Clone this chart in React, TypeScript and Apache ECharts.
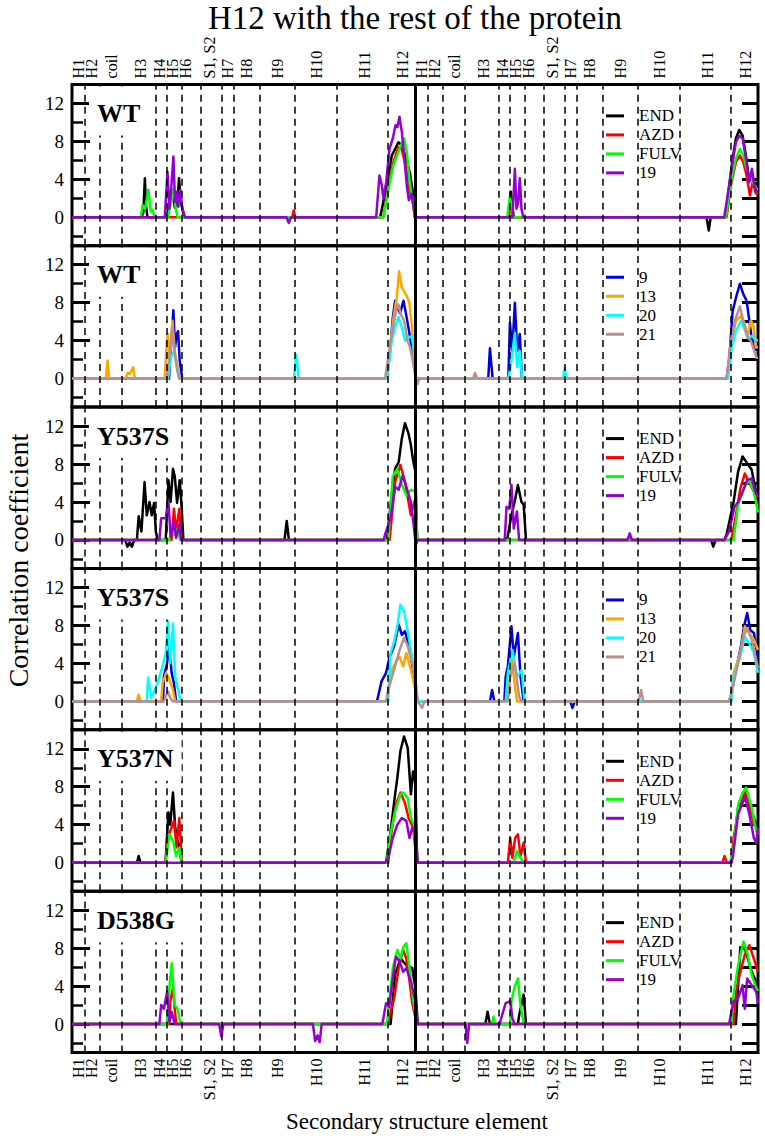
import React, { useEffect, useRef } from "react";
import * as echarts from "echarts";

const SERIF = "'Liberation Serif', 'DejaVu Serif', serif";
const TITLE = "H12 with the rest of the protein";
const Y_NAME = "Correlation coefficient";
const X_NAME = "Secondary structure element";

const PANEL_LABELS = ["WT", "WT", "Y537S", "Y537S", "Y537N", "D538G"];
const GROUP_A = ["END", "AZD", "FULV", "19"];
const GROUP_B = ["9", "13", "20", "21"];
const PANEL_GROUPS = [GROUP_A, GROUP_B, GROUP_A, GROUP_B, GROUP_A, GROUP_A];
const SERIES_COLORS: Record<string, string> = {
  END: "#000000",
  AZD: "#ff0000",
  FULV: "#00ff00",
  "19": "#9400d3",
  "9": "#0000dd",
  "13": "#ffa500",
  "20": "#00ffff",
  "21": "#bc8f8f",
};

// residue index per chain; chain B follows chain A
const CHAIN_LENGTH = 250;
const X_MAX = 500;
const SSE_NAMES = ["H1", "H2", "coil", "H3", "H4", "H5", "H6", "S1, S2", "H7", "H8", "H9", "H10", "H11", "H12"];
const SSE_LABEL_POS = [5, 14, 29, 50, 64, 73, 83, 100, 113, 127, 150, 178, 213, 241];
const SSE_BOUNDARIES = [9, 20, 36, 61, 69, 80, 94, 109, 118, 137, 162, 193, 230];

const Y_MIN = -3;
const Y_MAX = 14;
const Y_MAJOR = [0, 4, 8, 12];
const Y_MINOR = [-2, 2, 6, 10];
const Y_RIGHT_TICKS = [-2, 0, 2, 4, 6, 8, 10, 12];

// ---- Panel 1: WT, END / AZD / FULV / 19
const wtEND = [
  [50.5, 0], [52, 0.5], [53.1, 4.1], [54, 1.2], [55, 0],
  [69, 0], [71, 1.5], [73, 2.8], [75, 1.0], [77, 2.0], [78, 4.1], [79.5, 1.5], [81, 0.5], [82, 0],
  [224.6, 0], [229.5, 3.4], [233.1, 6.5], [237.9, 7.9], [240.4, 7.6], [243.5, 6.2], [246.4, 4.6], [248.4, 2.7], [250, 0],
  [318, 0], [319.9, 2.7], [321.1, 0.9], [322.1, 0],
  [462.5, 0], [464.1, -1.4], [465.5, 0],
  [476.2, 0], [479.1, 3.4], [481.5, 6.2], [483.9, 8.3], [486.3, 9.2], [488.8, 8.6], [491.2, 6.5], [493.1, 4.4], [494.8, 4.1], [497.3, 3.7], [500, 3.4],
];
const wtAZD = [
  [160.5, 0], [161.6, 0.7], [162.7, 0],
  [227, 0], [230.7, 3.4], [234.3, 5.8], [237.9, 7.4], [240.4, 7.1], [242.8, 5.7], [245.9, 3.0], [248.4, 1.6], [250, 0],
  [318.2, 0], [319.6, 1.5], [321.1, 0],
  [477.1, 0], [480.3, 3.4], [483.9, 5.8], [486.8, 6.5], [489.3, 5.8], [491.7, 4.4], [494.1, 2.3], [496.1, 3.7], [498.5, 2.5], [500, 2.5],
];
const wtFULV = [
  [50.2, 0], [51.4, 1.3], [53.3, 0.9], [55.7, 2.9], [57.4, 0.6], [58.6, 0.8], [60.3, 0],
  [70, 0], [72, 1.5], [74, 3.0], [75.5, 1.0], [77, 0],
  [227, 0], [230.7, 3.0], [234.3, 5.5], [239.2, 7.4], [242.1, 8.3], [244, 6.9], [246.4, 3.4], [248.9, 1.3], [250.3, 0],
  [317.2, 0], [319.2, 2.2], [320.4, 1.1], [321.6, 0],
  [476.7, 0], [480.3, 3.7], [483.9, 6.2], [486.8, 7.2], [489.3, 6.5], [491.7, 5.1], [494.8, 4.1], [498.5, 3.0], [500, 3.0],
];
const wt19 = [
  [67.6, 0], [69.6, 4.8], [71, 0.9], [72.5, 3.4], [73.9, 6.4], [75.1, 1.6], [76.3, 2.7], [77.5, 1.1], [78.8, 2.9], [80.5, 0.9], [82.4, 0],
  [156.3, 0], [158, -0.6], [159.7, 0],
  [221.7, 0], [224.1, 4.4], [225.8, 3.4], [227, 2.0], [229, 3.7], [231.4, 7.2], [233.8, 8.3], [235.8, 9.7], [237.2, 9.5], [238.7, 10.6], [240.4, 9.0], [242.1, 6.5], [244, 3.4], [245.5, 1.8], [247.6, 2.5], [250, 0],
  [321.1, 0], [322.8, 5.1], [324, 0.9], [325.2, 1.6], [326.4, 4.1], [327.6, 0.9], [328.9, 0],
  [475.4, 0], [478.6, 3.0], [481.5, 5.8], [483.9, 7.9], [486.3, 8.6], [488.8, 8.3], [491.2, 6.2], [493.6, 3.7], [495.6, 5.1], [497.3, 3.4], [499, 2.7], [500, 2.7],
];

// ---- Panel 2: WT, 9 / 13 / 20 / 21
const wt9 = [
  [70.7, 0], [72.4, 4.0], [73.9, 7.2], [75.1, 3.3], [76.3, 4.7], [77.3, 5.0], [78.5, 1.9], [80.4, 0],
  [229.5, 0], [231.9, 2.9], [233.8, 6.4], [235.5, 8.2], [237.2, 7.5], [239.1, 6.9], [241.6, 8.2], [244, 6.4], [245.9, 4.8], [247.6, 3.3], [249.3, 2.4], [250.8, 0],
  [303.4, 0], [304.6, 3.2], [306.6, 0],
  [318, 0], [319.2, 5.9], [320.9, 2.9], [322.8, 8.0], [324.5, 2.9], [326.4, 4.7], [327.9, 0],
  [477.1, 0], [479.1, 2.2], [481.5, 7.1], [483.9, 8.5], [486.8, 10.0], [489.3, 8.9], [491.7, 8.2], [493.6, 6.2], [495.6, 4.0], [497.5, 3.1], [500, 3.0],
];
const wt13 = [
  [24.7, 0], [25.9, 1.9], [27.1, 0],
  [39.2, 0], [40.5, 0.6], [42.2, 0.5], [44.6, 1.2], [45.8, 0],
  [67.6, 0], [69.1, 4.0], [70, 4.7], [71.2, 1.9], [73.2, 6.1], [74.9, 2.9], [76.8, 1.5], [78.3, 0],
  [229, 0], [231.9, 3.3], [234.3, 6.4], [236.7, 8.5], [238.4, 11.3], [240.4, 9.6], [242.1, 9.2], [244, 8.7], [245.9, 8.0], [247.6, 5.7], [249.3, 2.6], [250.8, 0],
  [477.9, 0], [481, 4.0], [483.9, 6.1], [487.6, 6.6], [490, 5.9], [492.4, 4.5], [494.8, 6.1], [496.5, 5.7], [498.5, 3.3], [500, 3.3],
];
const wt20 = [
  [70, 0], [72, 2.2], [74.4, 2.9], [76.3, 1.5], [78, 0],
  [161.6, 0], [163.5, 2.5], [165.2, 0],
  [229.5, 0], [233.1, 4.0], [235.5, 5.4], [237.9, 6.5], [240.4, 5.4], [242.8, 4.0], [245.2, 4.3], [247.6, 4.5], [249.3, 2.9], [250.3, 0],
  [318, 0], [319.6, 1.2], [321.1, 2.9], [322.8, 4.8], [324.5, 1.2], [326.4, 2.9], [328.1, 0],
  [357.9, 0], [359.1, 1.2], [360.4, 0],
  [477.9, 0], [481, 3.3], [483.9, 5.0], [487.6, 6.1], [490.7, 5.0], [493.1, 4.3], [495.6, 4.5], [498, 4.1], [500, 4.0],
];
const wt21 = [
  [69, 0], [71.5, 2.9], [73.2, 5.4], [74.9, 2.6], [76.8, 0.8], [78.3, 0],
  [228.2, 0], [231.9, 3.6], [234.3, 5.7], [236.7, 7.5], [237.9, 7.8], [239.6, 6.8], [242.1, 6.1], [244.5, 4.0], [246.4, 3.3], [248.3, 1.9], [250, 0.5], [251.7, -0.6], [253.2, 0],
  [292.5, 0], [293.7, 0.6], [295.4, 0],
  [477.1, 0], [480.3, 4.0], [483.4, 6.2], [486.8, 7.6], [489.3, 6.1], [492.4, 4.3], [494.8, 4.0], [497.3, 2.9], [499, 2.2], [500, 2.2],
];

// ---- Panel 3: Y537S, END / AZD / FULV / 19
const ysEND = [
  [38.7, 0], [40.4, -0.7], [42, -0.25], [43.7, -0.7], [45.3, 0],
  [47.3, 0], [48.6, 2.5], [50.6, 0.9], [52.9, 6.1], [54.5, 2.6], [56.5, 4.0], [58.1, 2.6], [59.8, 3.9], [61.1, 0.9], [62.4, 0],
  [68.3, 0], [70.3, 6.3], [71.9, 4.0], [73.6, 7.5], [74.9, 6.7], [76.6, 3.9], [78.5, 6.3], [79.8, 3.7], [81.2, 0],
  [154.9, 0], [156.5, 2.0], [158.1, 0],
  [229.5, 0], [232.2, 3.7], [235.5, 7.5], [238.1, 8.2], [240.4, 10.7], [242.7, 12.3], [245.3, 11.2], [247, 10.0], [248.6, 8.4], [250.3, 7.2], [251.5, 0],
  [317.1, 0], [320.3, 2.6], [322.6, 4.0], [325, 5.8], [327.6, 4.0], [329.2, 3.7], [330.9, 0],
  [465.8, 0], [467.4, -0.7], [469.1, 0],
  [475.6, 0], [477.3, 0.7], [482.2, 4.0], [485.5, 7.2], [488.8, 8.8], [492.1, 8.1], [495.4, 7.4], [498, 5.4], [500, 3.5],
];
const ysAZD = [
  [72.6, 0], [74.3, 3.3], [75.9, 0.9], [78.2, 3.3], [79.8, 0],
  [231.5, 0], [235.5, 6.1], [239.4, 7.9], [242.7, 6.1], [245.3, 4.0], [247, 2.6], [250.3, 4.4], [251.6, 0],
  [480.6, 0], [483.9, 2.6], [487.1, 5.4], [490.4, 7.0], [493.7, 6.0], [497, 5.1], [500, 3.5],
];
const ysFULV = [
  [71, 0], [72.6, 1.1], [74.9, 0.5], [76.9, 1.2], [78.9, 0],
  [230.5, 0], [233.8, 6.7], [237.1, 7.5], [240.4, 5.8], [243.7, 4.7], [247, 5.3], [250.3, 5.1], [251.6, 0],
  [482.2, 0], [485.5, 3.7], [490.4, 5.6], [493.7, 6.3], [497, 5.1], [500, 2.9],
];
const ys19 = [
  [63.7, 0], [65, 2.3], [68.3, 2.3], [70.3, 4.0], [71.9, 0.35], [74.3, 1.9], [75.9, 0.2], [78.2, 1.6], [79.5, 0],
  [227.2, 0], [228.2, 0.6], [232.2, 2.3], [235.5, 5.6], [238.1, 5.3], [241.1, 6.8], [243.7, 5.6], [247, 4.0], [248.6, 2.1], [250.6, -0.5], [252, 0],
  [315.4, 0], [316.7, 3.5], [318.7, 3.3], [320.3, 5.8], [322, 1.2], [324.3, 3.0], [325.9, 0],
  [404.9, 0], [406.5, 0.7], [408.2, 0],
  [475.6, 0], [478.9, 0.9], [482.9, 3.5], [485.5, 4.0], [488.8, 5.1], [492.1, 6.3], [495.4, 6.5], [498, 5.1], [500, 4.5],
];

// ---- Panel 4: Y537S, 9 / 13 / 20 / 21
const ys9 = [
  [66.4, 0], [67, 2.6], [69.3, 4.0], [71, 5.8], [72.6, 3.0], [74.3, 1.9], [75.9, 0],
  [222.3, 0], [225.6, 2.1], [228.9, 3.0], [231.5, 4.7], [234.8, 5.8], [238.1, 8.1], [240.4, 7.0], [242.7, 7.4], [244.7, 6.3], [247, 4.7], [250.3, 1.6], [252, 0],
  [304.6, 0], [306.2, 1.2], [307.8, 0],
  [315.1, 0], [316.1, 2.6], [317.7, 3.7], [320.3, 7.9], [322, 4.7], [325, 7.2], [326.9, 2.6], [329.2, 0],
  [363.1, 0], [364.8, -0.7], [366.4, 0],
  [478.9, 0], [480.6, 0.7], [483.9, 3.3], [487.1, 5.4], [489.8, 7.9], [492.1, 9.3], [494.4, 7.5], [497, 7.2], [500, 4.5],
];
const ys13 = [
  [47.3, 0], [48.6, 0.7], [49.9, 0],
  [65, 0], [66, 1.9], [68.7, 3.0], [71, 2.3], [73.6, 1.2], [75.2, 0],
  [229.5, 0], [232.2, 3.0], [236.1, 4.2], [238.8, 4.7], [241.4, 3.7], [243.7, 5.1], [247, 3.3], [250.3, 1.2], [251.6, 0],
  [316.7, 0], [317.7, 0.5], [320.3, 4.7], [322.6, 1.9], [324.3, 0],
  [480.6, 0], [482.2, 3.0], [487.1, 5.1], [490.4, 7.9], [493.7, 7.2], [497, 6.5], [500, 5.4],
];
const ys20 = [
  [54.5, 0], [55.5, 2.5], [57.8, 0.35], [60.4, 1.2], [62.7, 2.1], [66, 3.7], [68.3, 5.1], [70, 8.4], [71.6, 4.0], [73.6, 8.2], [75.2, 2.6], [77.5, 1.1], [79.2, 0],
  [230.5, 0], [232.2, 5.1], [234.8, 6.3], [237.1, 7.9], [239.4, 10.2], [242, 9.5], [244.7, 7.4], [247, 5.4], [250.3, 2.3], [251.6, 0],
  [316.1, 0], [317.7, 3.0], [321, 5.4], [324.3, 2.6], [327.6, 3.3], [329.9, 0],
  [480.6, 0], [482.2, 2.6], [487.1, 4.7], [490.4, 6.8], [493.7, 6.1], [497, 5.1], [500, 3.0],
];
const ys21 = [
  [67, 0], [68.3, 0.5], [70, 1.05], [71.6, 0.35], [73.3, 0],
  [228.9, 0], [230.5, 1.2], [235.5, 3.7], [238.8, 5.4], [242, 6.7], [244.7, 5.8], [248, 4.0], [250.3, 2.3], [252, 0], [255.2, -0.7], [256.8, 0],
  [317.7, 0], [319.4, 2.6], [322.6, 4.0], [325.9, 0.5], [327.6, 0],
  [413.1, 0], [414.8, 1.2], [416.4, 0],
  [478.9, 0], [480.6, 0.9], [485.5, 4.0], [489.4, 6.8], [492.1, 7.7], [495.4, 6.5], [500, 3.5],
];

// ---- Panel 5: Y537N, END / AZD / FULV / 19
const ynEND = [
  [47.3, 0], [48.6, 0.7], [49.9, 0],
  [67.7, 0], [68.3, 0.35], [70.3, 5.3], [71.6, 4.0], [73.6, 7.4], [75.2, 3.7], [76.9, 2.3], [78.5, 1.6], [79.8, 0],
  [228.9, 0], [232.2, 3.3], [235.5, 7.2], [237.1, 8.9], [239.4, 11.8], [242, 13.3], [244.7, 12.1], [247, 7.2], [248.6, 9.6], [250.3, 8.4], [251.6, 0],
  [480.6, 0], [485.5, 5.8], [490.4, 6.7], [495.4, 5.4], [498.7, 4.0], [500, 2.6],
];
const ynAZD = [
  [68.3, 0], [69.3, 2.6], [71.6, 3.3], [74.3, 4.4], [76.2, 1.6], [78.2, 4.7], [80.2, 0],
  [230.5, 0], [232.2, 2.6], [236.1, 6.1], [239.4, 7.4], [242.7, 6.3], [245.3, 4.7], [248.6, 3.7], [251.3, 0],
  [317.7, 0], [319.4, 2.6], [321, 0.5], [323, 2.6], [325, 3.0], [326.9, 0.7], [329.2, 2.1], [330.9, 0],
  [474, 0], [475.6, 0.7], [477.3, 0],
  [480.6, 0], [482.2, 2.6], [485.5, 5.3], [490.4, 7.5], [493.7, 6.1], [497, 4.0], [500, 3.5],
];
const ynFULV = [
  [68.3, 0], [71, 3.0], [73.6, 2.3], [75.9, 0.7], [78.2, 1.6], [80.2, 0],
  [229.5, 0], [231.5, 2.6], [235.5, 5.4], [239.4, 7.2], [241.4, 7.4], [244.7, 6.8], [247, 4.7], [249.3, 4.0], [251.3, 0],
  [322, 0], [324.3, 1.2], [326.9, 0.5], [329.2, 0],
  [479.6, 0], [482.2, 1.6], [485.5, 6.1], [488.8, 7.4], [491.4, 7.9], [495.4, 5.8], [498.7, 3.3], [500, 3.0],
];
const yn19 = [
  [228.2, 0], [230.5, 0.5], [233.8, 2.6], [237.1, 4.0], [240.4, 4.7], [243.7, 4.4], [246, 2.6], [248, 3.7], [250.6, 3.0], [252, 0],
  [480.2, 0], [481.6, 0.5], [485.5, 5.1], [490.4, 7.0], [493.7, 5.1], [497, 2.6], [498.7, 2.1], [500, 3.7],
];

// ---- Panel 6: D538G, END / AZD / FULV / 19
const dgEND = [
  [232.2, 0], [235.5, 5.2], [239.4, 6.9], [243.7, 6.2], [248, 5.9], [250.3, 3.8], [252, 0],
  [301.3, 0], [302.9, 1.3], [304.6, 0],
  [325, 0], [325.9, 0.9], [329.2, 3.1], [330.9, 0],
  [483.9, 0], [487.1, 8.1], [490.4, 8.0], [495.4, 5.5], [500, 4.0],
];
const dgAZD = [
  [71, 0], [71.6, 2.4], [73.6, 3.8], [75.9, 0],
  [230.5, 0], [231.5, 0.9], [234.8, 2.7], [238.1, 5.9], [241.4, 7.8], [243.7, 6.9], [246, 4.5], [248, 2.2], [251.3, 0],
  [482.2, 0], [483.9, 3.4], [487.1, 5.5], [490.4, 7.3], [493.7, 8.3], [497, 6.9], [500, 5.5],
];
const dgFULV = [
  [69.3, 0], [70.3, 2.7], [72.6, 6.4], [74.9, 2.0], [76.9, 1.6], [79.2, 0],
  [229.5, 0], [230.5, 1.3], [233.8, 5.9], [237.1, 7.8], [239.4, 6.9], [241.4, 8.1], [243.7, 8.5], [246, 5.9], [248.6, 2.7], [251.3, 0],
  [306.2, 0], [307.2, 0.8], [308.5, 0],
  [319.4, 0], [320.3, 2.4], [322.6, 3.9], [325, 4.8], [326.9, 2.0], [329.2, 0],
  [480.6, 0], [482.2, 3.1], [485.5, 6.2], [489.4, 8.7], [492.1, 7.6], [495.4, 5.2], [498.7, 3.8], [500, 3.5],
];
const dg19 = [
  [63.7, 0], [65, 2.0], [67, 1.6], [69.3, 3.4], [71, 0.25], [72.6, 1.3], [74.9, 0],
  [107.2, 0], [108.8, -1.3], [110.4, 0],
  [175.6, 0], [177.2, -1.8], [179, -1.2], [180.5, -1.9], [182, 0],
  [226.2, 0], [228.9, 2.2], [231.2, 1.8], [233.8, 4.8], [236.1, 7.1], [238.8, 6.6], [241.4, 5.5], [243.7, 5.9], [247, 4.5], [250.3, 2.4], [252, 0],
  [286.8, 0], [288.1, -2.0], [289.4, 0],
  [311.8, 0], [312.8, 0.6], [316.1, 2.2], [319.4, 2.4], [321, 0.6], [322.6, 0],
  [478.9, 0], [482.2, 2.4], [485.5, 2.7], [488.8, 4.1], [490.4, 1.6], [492.1, 4.8], [495.4, 4.1], [498.7, 3.4], [500, 2.2],
];

const PANEL_DATA = [
  [wtEND, wtAZD, wtFULV, wt19],
  [wt9, wt13, wt20, wt21],
  [ysEND, ysAZD, ysFULV, ys19],
  [ys9, ys13, ys20, ys21],
  [ynEND, ynAZD, ynFULV, yn19],
  [dgEND, dgAZD, dgFULV, dg19],
];

// ---- layout (pixels)
const GRID_LEFT = 72;
const GRID_RIGHT = 7;
const GRID_TOP0 = 84.4;
const PANEL_H = 161.35;

function withEnds(points: number[][]): number[][] {
  const out: number[][] = [[0, 0], ...points];
  const last = points[points.length - 1];
  if (!last || last[0] < X_MAX) out.push([X_MAX, 0]);
  return out;
}

function buildOption() {
  const labelValues = [
    ...SSE_LABEL_POS,
    ...SSE_LABEL_POS.map((v) => v + CHAIN_LENGTH),
  ];
  const labelNames = [...SSE_NAMES, ...SSE_NAMES];
  const labelMap = new Map<number, string>();
  labelValues.forEach((v, k) => labelMap.set(v, labelNames[k]));
  // empty guard labels at both ends so that no real label gets dropped
  const axisLabelValues = [0, ...labelValues, X_MAX];
  const boundaries = [
    ...SSE_BOUNDARIES,
    ...SSE_BOUNDARIES.map((v) => v + CHAIN_LENGTH),
  ];

  const grids: any[] = [];
  const xAxes: any[] = [];
  const yAxes: any[] = [];
  const series: any[] = [];
  const legends: any[] = [];
  const titles: any[] = [];

  PANEL_LABELS.forEach((label, i) => {
    const top = GRID_TOP0 + i * PANEL_H;
    grids.push({
      left: GRID_LEFT,
      right: GRID_RIGHT,
      top,
      height: PANEL_H,
      show: true,
      borderColor: "#000",
      borderWidth: 3,
      backgroundColor: "transparent",
    });
    const showX = i === 0 || i === PANEL_LABELS.length - 1;
    xAxes.push({
      type: "value",
      gridIndex: i,
      min: 0,
      max: X_MAX,
      position: i === 0 ? "top" : "bottom",
      show: showX,
      axisLine: { show: false },
      axisTick: { show: false },
      splitLine: { show: false },
      axisLabel: {
        show: showX,
        customValues: axisLabelValues,
        formatter: (v: number) => labelMap.get(v) ?? "",
        showMinLabel: false,
        showMaxLabel: false,
        hideOverlap: false,
        rotate: 90,
        margin: 6,
        fontSize: 16,
        fontFamily: SERIF,
        color: "#000",
      },
    });
    yAxes.push({
      type: "value",
      gridIndex: i,
      min: Y_MIN,
      max: Y_MAX,
      position: "left",
      axisLine: { show: false },
      splitLine: { show: false },
      axisTick: {
        show: true,
        inside: true,
        length: 18,
        customValues: Y_MAJOR,
        lineStyle: { color: "#000", width: 3 },
      },
      axisLabel: {
        customValues: Y_MAJOR,
        fontSize: 19,
        fontFamily: SERIF,
        color: "#000",
        margin: 8,
      },
    });
    yAxes.push({
      type: "value",
      gridIndex: i,
      min: Y_MIN,
      max: Y_MAX,
      position: "left",
      axisLine: { show: false },
      splitLine: { show: false },
      axisLabel: { show: false },
      axisTick: {
        show: true,
        inside: true,
        length: 11,
        customValues: Y_MINOR,
        lineStyle: { color: "#000", width: 2.5 },
      },
    });
    yAxes.push({
      type: "value",
      gridIndex: i,
      min: Y_MIN,
      max: Y_MAX,
      position: "right",
      axisLine: { show: false },
      splitLine: { show: false },
      axisLabel: { show: false },
      axisTick: {
        show: true,
        inside: true,
        length: 16,
        customValues: Y_RIGHT_TICKS,
        lineStyle: { color: "#000", width: 3 },
      },
    });

    series.push({
      type: "line",
      name: "_sse" + i,
      xAxisIndex: i,
      yAxisIndex: 3 * i,
      data: [[0, 0]],
      symbol: "none",
      silent: true,
      lineStyle: { opacity: 0 },
      z: 1,
      markLine: {
        silent: true,
        symbol: ["none", "none"],
        label: { show: false },
        animation: false,
        lineStyle: { color: "#000", type: [7, 5], width: 1.5 },
        emphasis: { disabled: true },
        data: [
          ...boundaries.map((v) => ({ xAxis: v })),
          { xAxis: CHAIN_LENGTH, lineStyle: { type: "solid", width: 3, color: "#000" } },
        ],
      },
    });

    const names = PANEL_GROUPS[i];
    names.forEach((name, j) => {
      const color = SERIES_COLORS[name];
      series.push({
        type: "line",
        name,
        xAxisIndex: i,
        yAxisIndex: 3 * i,
        data: withEnds(PANEL_DATA[i][j]),
        symbol: "none",
        showSymbol: false,
        silent: true,
        z: 3,
        lineStyle: { color, width: 2.5, join: "round" },
        itemStyle: { color },
      });
    });

    legends.push({
      orient: "vertical",
      left: 600,
      top: top + 17,
      data: names.map((n) => ({ name: n, icon: "rect" })),
      selectedMode: false,
      itemWidth: 18,
      itemHeight: 3,
      itemGap: 2,
      backgroundColor: "#fff",
      padding: [6, 10, 6, 6],
      textStyle: {
        fontFamily: SERIF,
        fontSize: 17,
        color: "#000",
        padding: [0, 0, 0, 10],
      },
    });

    titles.push({
      text: label,
      left: 89,
      top: top + 2,
      padding: [14, 8, 9, 8],
      backgroundColor: "#fff",
      textStyle: {
        fontFamily: SERIF,
        fontSize: 26,
        fontWeight: "bold",
        color: "#000",
        lineHeight: 26,
      },
    });
  });

  const panelsMid = GRID_TOP0 + (PANEL_H * PANEL_LABELS.length) / 2;

  return {
    animation: false,
    backgroundColor: "#fff",
    title: titles,
    legend: legends,
    grid: grids,
    xAxis: xAxes,
    yAxis: yAxes,
    series,
    graphic: [
      {
        type: "text",
        x: 415,
        y: 17.5,
        z: 100,
        style: {
          text: TITLE,
          fontFamily: SERIF,
          fontSize: 33,
          fill: "#000",
          align: "center",
          verticalAlign: "middle",
        },
      },
      {
        type: "text",
        x: 18,
        y: panelsMid - 8,
        rotation: Math.PI / 2,
        z: 100,
        style: {
          text: Y_NAME,
          fontFamily: SERIF,
          fontSize: 28,
          fill: "#000",
          align: "center",
          verticalAlign: "middle",
        },
      },
      {
        type: "text",
        x: 417,
        y: 1121,
        z: 100,
        style: {
          text: X_NAME,
          fontFamily: SERIF,
          fontSize: 23,
          fill: "#000",
          align: "center",
          verticalAlign: "middle",
        },
      },
    ],
  };
}

export default function App() {
  const ref = useRef<HTMLDivElement>(null);
  useEffect(() => {
    if (!ref.current) return;
    const chart = echarts.init(ref.current, undefined, { renderer: "svg" });
    chart.setOption(buildOption() as any);
    return () => chart.dispose();
  }, []);
  return (
    <div
      ref={ref}
      style={{ position: "absolute", left: 0, top: 0, width: 765, height: 1138 }}
    />
  );
}
